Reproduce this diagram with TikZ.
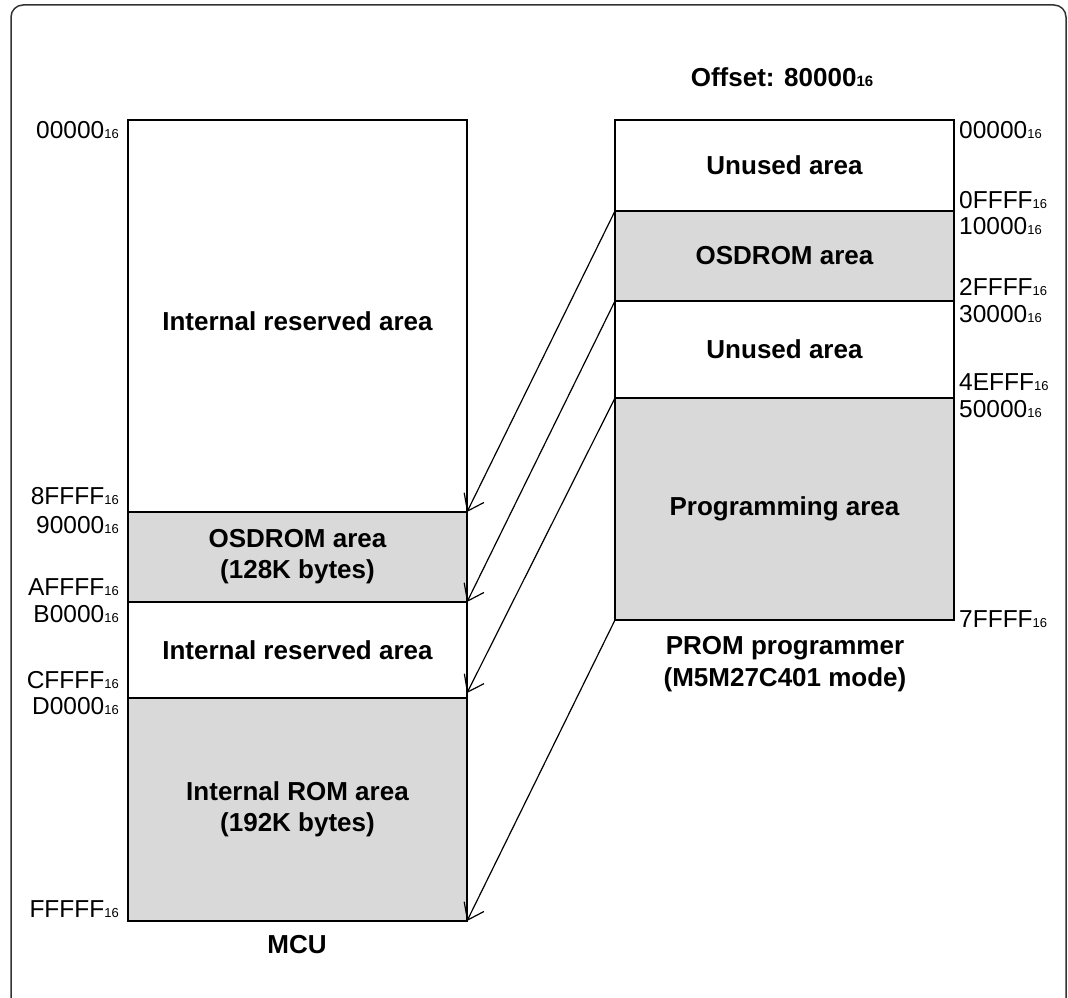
\documentclass[tikz,border=0pt]{standalone}
\usepackage{fontspec}
\setmainfont{Liberation Sans}
\usetikzlibrary{arrows.meta}
\definecolor{areagrey}{HTML}{D9D9D9}
\definecolor{framegrey}{HTML}{333333}
\newcommand{\hexsub}[1]{#1{\fontsize{13}{13}\selectfont 16}}
\newcommand{\bighexsub}[1]{#1{\fontsize{15}{15}\selectfont 16}}
\begin{document}
\begin{tikzpicture}[x=1pt,y=-1pt,
  region/.style={draw=black, line width=1.3pt, minimum width=339pt, inner sep=0pt, outer sep=0pt,
    font=\fontsize{26}{31}\selectfont\bfseries, align=center, anchor=north west},
  used/.style={region, fill=areagrey},
  addrL/.style={anchor=base east, font=\fontsize{24.5}{24.5}\selectfont, inner sep=0pt},
  addrR/.style={anchor=base west, font=\fontsize{24.5}{24.5}\selectfont, inner sep=0pt},
  caption/.style={font=\fontsize{26}{32}\selectfont\bfseries, align=center, inner sep=0pt},
  maparrow/.style={line width=1.2pt, -{Straight Barb[length=15pt,width=22pt]}}
]
\useasboundingbox (0,0) rectangle (1068,998);
\begin{scope}
  \clip (0,0) rectangle (1068,998);
  \draw[framegrey, line width=1.5pt, rounded corners=12pt] (11,5) rectangle (1066,1010);
\end{scope}

% MCU column
\node[region, minimum height=392pt] (L1) at (128,120) {\\[-1pt]Internal reserved area};
\node[used, minimum height=90pt] (L2) at (128,512) {OSDROM area\\(128K bytes)};
\node[region, minimum height=96pt] (L3) at (128,602) {Internal reserved area};
\node[used, minimum height=223pt] (L4) at (128,698) {Internal ROM area\\(192K bytes)};

% PROM column
\node[region, minimum height=91pt] (R1) at (615,120) {Unused area};
\node[used, minimum height=90pt] (R2) at (615,211) {OSDROM area};
\node[region, minimum height=97pt] (R3) at (615,301) {Unused area};
\node[used, minimum height=222pt] (R4) at (615,398) {Programming area};

% left addresses
\node[addrL] (a1) at (119,138) {\hexsub{00000}};
\node[addrL] (a2) at (119,504) {\hexsub{8FFFF}};
\node[addrL] (a3) at (119,533) {\hexsub{90000}};
\node[addrL] (a4) at (119,595) {\hexsub{AFFFF}};
\node[addrL] (a5) at (119,622) {\hexsub{B0000}};
\node[addrL] (a6) at (119,688) {\hexsub{CFFFF}};
\node[addrL] (a7) at (119,714) {\hexsub{D0000}};
\node[addrL] (a8) at (119,917) {\hexsub{FFFFF}};

% right addresses
\node[addrR] (b1) at (959,138) {\hexsub{00000}};
\node[addrR] (b2) at (959,208) {\hexsub{0FFFF}};
\node[addrR] (b3) at (959,234) {\hexsub{10000}};
\node[addrR] (b4) at (959,295) {\hexsub{2FFFF}};
\node[addrR] (b5) at (959,322) {\hexsub{30000}};
\node[addrR] (b6) at (959,390) {\hexsub{4EFFF}};
\node[addrR] (b7) at (959,417) {\hexsub{50000}};
\node[addrR] (b8) at (959,627) {\hexsub{7FFFF}};

% captions
\node[caption, anchor=base] (off) at (782,86) {Offset: \bighexsub{80000}};
\node[caption, anchor=base] (mcu) at (297,953) {MCU};
\node[caption, anchor=center] (prom) at (785,664) {PROM programmer\\(M5M27C401 mode)};

% mapping arrows
\draw[maparrow] (R2.north west) -- (L2.north east);
\draw[maparrow] (R3.north west) -- (L3.north east);
\draw[maparrow] (R4.north west) -- ([yshift=5pt]L4.north east);
\draw[maparrow] (R4.south west) -- (L4.south east);
\end{tikzpicture}
\end{document}
